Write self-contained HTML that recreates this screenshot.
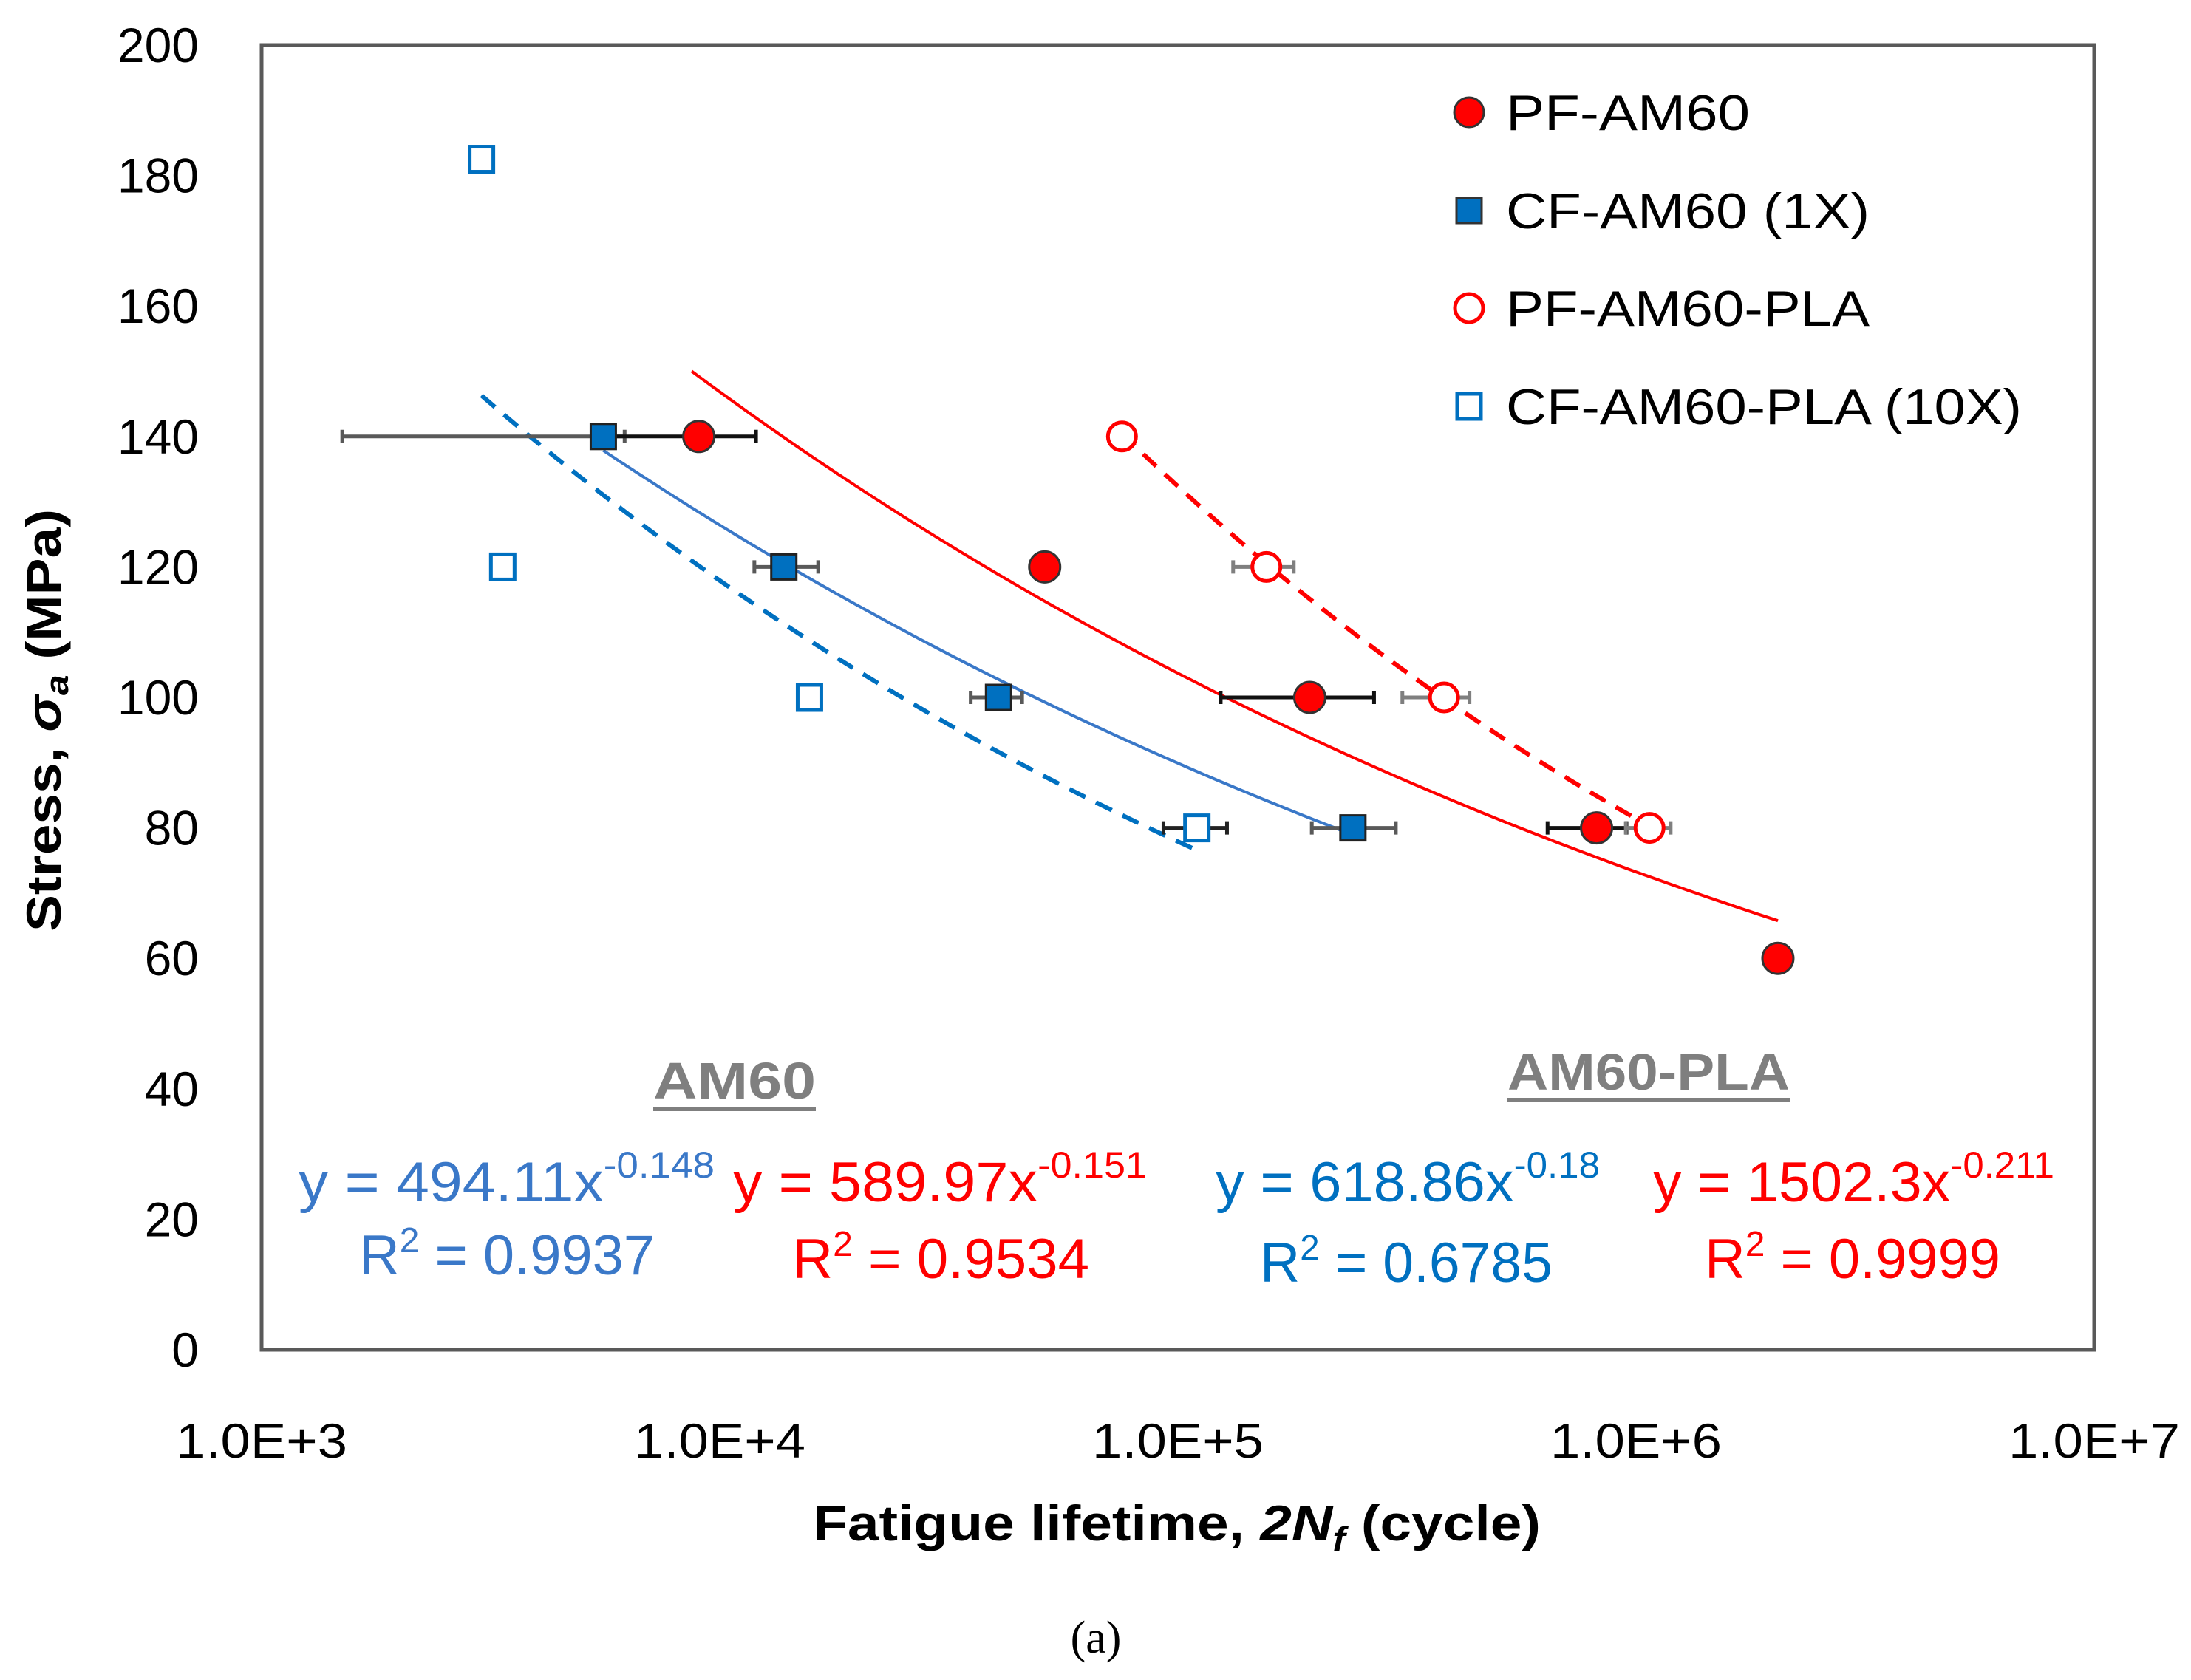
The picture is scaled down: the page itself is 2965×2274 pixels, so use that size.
<!DOCTYPE html>
<html><head><meta charset="utf-8"><style>
html,body{margin:0;padding:0;background:#fff;}
svg{display:block;font-family:"Liberation Sans",sans-serif;}
</style></head><body>
<svg id="chart" width="2965" height="2274" viewBox="0 0 2965 2274" xmlns="http://www.w3.org/2000/svg">
<rect x="0" y="0" width="2965" height="2274" fill="#fff"/>
<rect x="354" y="61" width="2480" height="1766" fill="none" stroke="#595959" stroke-width="5"/>
<g id="yticks"></g><g id="xticks"></g>
<g id="trends"></g><g id="errs"></g><g id="marks"></g>
<text transform="translate(82,975) rotate(-90)" text-anchor="middle" font-weight="bold" font-size="66" textLength="572" lengthAdjust="spacingAndGlyphs">Stress, <tspan font-style="italic">σ<tspan font-size="44" dy="10">a</tspan></tspan><tspan dy="-10"> (MPa)</tspan></text>
<text x="1100" y="2085" font-weight="bold" font-size="68" textLength="985" lengthAdjust="spacingAndGlyphs">Fatigue lifetime, <tspan font-style="italic">2N<tspan font-size="46" dy="14">f</tspan></tspan><tspan dy="-14"> (cycle)</tspan></text>
<text x="1483" y="2237" text-anchor="middle" font-family="Liberation Serif, serif" font-size="62">(a)</text>
<g font-size="68">
 <circle cx="1988" cy="152" r="20" fill="#ff0000" stroke="#333" stroke-width="3"/>
 <text x="2038" y="176" textLength="330" lengthAdjust="spacingAndGlyphs">PF-AM60</text>
 <rect x="1971" y="268" width="34" height="34" fill="#0070c0" stroke="#333" stroke-width="3"/>
 <text x="2038" y="309" textLength="492" lengthAdjust="spacingAndGlyphs">CF-AM60 (1X)</text>
 <circle cx="1988" cy="417" r="19" fill="#fff" stroke="#ff0000" stroke-width="5"/>
 <text x="2038" y="441" textLength="492" lengthAdjust="spacingAndGlyphs">PF-AM60-PLA</text>
 <rect x="1972" y="533" width="32" height="34" fill="#fff" stroke="#0070c0" stroke-width="5"/>
 <text x="2038" y="574" textLength="698" lengthAdjust="spacingAndGlyphs">CF-AM60-PLA (10X)</text>
</g>
<g font-weight="bold" fill="#7f7f7f" font-size="70">
 <text x="994" y="1487" text-anchor="middle" textLength="220" lengthAdjust="spacingAndGlyphs">AM60</text>
 <rect x="884" y="1498" width="220" height="6" fill="#7f7f7f"/>
 <text x="2231" y="1475" text-anchor="middle" textLength="382" lengthAdjust="spacingAndGlyphs">AM60-PLA</text>
 <rect x="2040" y="1486" width="382" height="6" fill="#7f7f7f"/>
</g>
<g font-size="76">
 <text x="404" y="1626" fill="#3a78c8" textLength="563" lengthAdjust="spacingAndGlyphs">y = 494.11x<tspan font-size="50" dy="-32">-0.148</tspan></text>
 <text x="486" y="1725" fill="#3a78c8" textLength="400" lengthAdjust="spacingAndGlyphs">R<tspan font-size="48" dy="-30">2</tspan><tspan dy="30"> = 0.9937</tspan></text>
 <text x="992" y="1626" fill="#ff0000" textLength="560" lengthAdjust="spacingAndGlyphs">y = 589.97x<tspan font-size="50" dy="-32">-0.151</tspan></text>
 <text x="1072" y="1730" fill="#ff0000" textLength="402" lengthAdjust="spacingAndGlyphs">R<tspan font-size="48" dy="-30">2</tspan><tspan dy="30"> = 0.9534</tspan></text>
 <text x="1645" y="1626" fill="#0070c0" textLength="520" lengthAdjust="spacingAndGlyphs">y = 618.86x<tspan font-size="50" dy="-32">-0.18</tspan></text>
 <text x="1705" y="1735" fill="#0070c0" textLength="396" lengthAdjust="spacingAndGlyphs">R<tspan font-size="48" dy="-30">2</tspan><tspan dy="30"> = 0.6785</tspan></text>
 <text x="2237" y="1626" fill="#ff0000" textLength="543" lengthAdjust="spacingAndGlyphs">y = 1502.3x<tspan font-size="50" dy="-32">-0.211</tspan></text>
 <text x="2307" y="1730" fill="#ff0000" textLength="400" lengthAdjust="spacingAndGlyphs">R<tspan font-size="48" dy="-30">2</tspan><tspan dy="30"> = 0.9999</tspan></text>
</g>
</svg>
<script>
const yTicks = [0,20,40,60,80,100,120,140,160,180,200];
const xTickExp = [3,4,5,6,7];
const xTickLabels = ["1.0E+3","1.0E+4","1.0E+5","1.0E+6","1.0E+7"];
// PF-AM60
const pfX = [9000,51200,194000,820000,2040000];
const pfY = [140,120,100,80,60];
const pfLo = [5570,48000,124000,641000,2040000];
const pfHi = [12000,54000,268000,953000,2040000];
// CF-AM60 (1X)
const cfX = [5570,13800,40600,241000];
const cfY = [140,120,100,80];
const cfLo = [1500,11900,35300,196000];
const cfHi = [6200,16400,45700,299000];
// PF-AM60-PLA
const ppX = [75500,156000,381000,1070000];
const ppY = [140,120,100,80];
const ppLo = [75500,132000,309000,950000];
const ppHi = [75500,179000,433000,1190000];
// CF-AM60-PLA (10X)
const cpX = [3020,3360,15700,110000];
const cpY = [182.5,120,100,80];
const cpLo = [3020,3360,15700,93000];
const cpHi = [3020,3360,15700,128000];
// trend fits: coefficient, exponent, x range
const trendA = [494.11,589.97,618.86,1502.3];
const trendB = [-0.148,-0.151,-0.18,-0.211];
const trendX0 = [5570,8680,3020,75500];
const trendX1 = [241000,2040000,110000,1070000];

const L=354,R=2834,T=61,B=1827;
const sx = v => L + (Math.log10(v)-3)/4*(R-L);
const sy = v => B - v/200*(B-T);
const NS="http://www.w3.org/2000/svg";
function mk(tag, parent, attrs){const e=document.createElementNS(NS,tag);for(const k in attrs)e.setAttribute(k,attrs[k]);document.getElementById(parent).appendChild(e);return e;}

yTicks.forEach(v=>{
  const t=mk('text','yticks',{x:269,y:sy(v)+23,'text-anchor':'end','font-size':66});
  
  
  t.textContent=v;
});
xTickExp.forEach((e,i)=>{
  const t=mk('text','xticks',{x:sx(Math.pow(10,e)),y:1973,'text-anchor':'middle','font-size':66,textLength:232,lengthAdjust:'spacingAndGlyphs'});
  
  
  t.textContent=xTickLabels[i];
});

const trendCol=['#3a78c8','#ff0000','#0070c0','#ff0000'];
const trendDash=[null,null,'24 16','24 16'];
const trendW=[4,4,6,6];
const trendNames=['trend-cf-am60','trend-pf-am60','trend-cf-am60-pla','trend-pf-am60-pla'];
trendA.forEach((a,i)=>{
  let d='';const n=60;
  const l0=Math.log10(trendX0[i]),l1=Math.log10(trendX1[i]);
  for(let k=0;k<=n;k++){const x=Math.pow(10,l0+(l1-l0)*k/n);const y=a*Math.pow(x,trendB[i]);d+=(k?'L':'M')+sx(x).toFixed(1)+','+sy(y).toFixed(1);}
  const p=mk('path','trends',{d:d,fill:'none',stroke:trendCol[i],'stroke-width':trendW[i]});
  if(trendDash[i])p.setAttribute('stroke-dasharray',trendDash[i]);
  
  
});

function errs(lo,hi,ys,col,w){
  lo.forEach((l,i)=>{
    if(l===hi[i])return;
    const y=sy(ys[i]);
    const g=mk('path','errs',{d:`M${sx(l)},${y}H${sx(hi[i])}M${sx(l)},${y-9}v18M${sx(hi[i])},${y-9}v18`,stroke:col,'stroke-width':w,fill:'none'});
    
    
  });
}
errs(cfLo,cfHi,cfY,'#595959',5);
errs(pfLo,pfHi,pfY,'#111',5);
errs(ppLo,ppHi,ppY,'#7f7f7f',5);
errs(cpLo,cpHi,cpY,'#222',5);

pfX.forEach((x,i)=>{
  const c=mk('circle','marks',{cx:sx(x),cy:sy(pfY[i]),r:21,fill:'#ff0000',stroke:'#333','stroke-width':3});
  
  
});
cfX.forEach((x,i)=>{
  const c=mk('rect','marks',{x:sx(x)-17,y:sy(cfY[i])-17,width:34,height:34,fill:'#0070c0',stroke:'#222','stroke-width':3});
  
  
});
ppX.forEach((x,i)=>{
  const c=mk('circle','marks',{cx:sx(x),cy:sy(ppY[i]),r:19,fill:'#fff',stroke:'#ff0000','stroke-width':5});
  
  
});
cpX.forEach((x,i)=>{
  const c=mk('rect','marks',{x:sx(x)-16,y:sy(cpY[i])-17,width:32,height:34,fill:'#fff',stroke:'#0070c0','stroke-width':5});
  
  
});
</script>
</body></html>
